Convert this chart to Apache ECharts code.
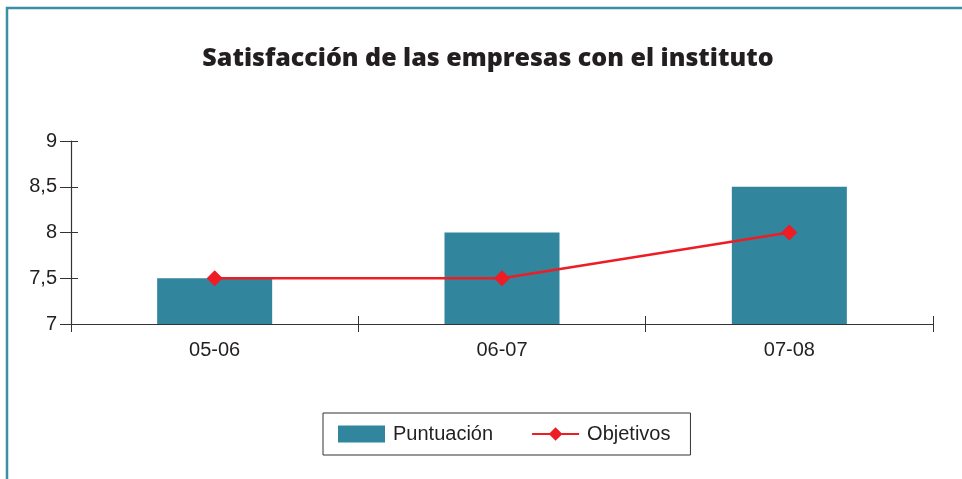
<!DOCTYPE html>
<html>
<head>
<meta charset="utf-8">
<script src="https://cdn.jsdelivr.net/npm/echarts@6/dist/echarts.min.js"></script>
<style>
  html, body { margin: 0; padding: 0; background: #fff; }
  #chart { width: 962px; height: 479px; }
</style>
</head>
<body>
<div id="chart"></div>
<script>
// datos del grafico
const cursos = ['05-06', '06-07', '07-08']
const puntuacion = [7.5, 8, 8.5]
const objetivos = [7.5, 7.5, 8]

const tealBar = '#31859c'
const rojo = '#ee1c25'
const texto = '#231f20'

const chart = echarts.init(document.getElementById('chart'))

const option = {
  animation: false,
  backgroundColor: '#fff',
  title: {
    text: 'Satisfacción de las empresas con el instituto',
    left: 483,
    textAlign: 'center',
    top: 41,
    textStyle: {
      fontFamily: 'Open Sans',
      fontWeight: 800,
      fontSize: 25,
      color: texto
    }
  },
  graphic: [
    {
      type: 'polyline',
      shape: { points: [[7, 479], [7, 8], [962, 8]] },
      style: { stroke: '#3a8ea5', lineWidth: 2.5, fill: null }
    }
  ],
  legend: {
    left: 323,
    top: 413,
    padding: [11, 20, 11, 15],
    borderColor: '#333',
    borderWidth: 1,
    itemWidth: 47,
    itemHeight: 17,
    itemGap: 38,
    textStyle: { fontFamily: 'Liberation Sans', fontSize: 20, color: texto, padding: [0, 0, 0, 3] },
    data: [
      { name: 'Puntuación', icon: 'rect' },
      { name: 'Objetivos' }
    ]
  },
  grid: { left: 71, right: 29, top: 141, bottom: 155 },
  xAxis: [
    {
      type: 'category',
      data: cursos,
      axisLine: { lineStyle: { color: '#333', width: 1.2 } },
      axisTick: { show: true, length: 8, lineStyle: { color: '#333' } },
      axisLabel: { fontFamily: 'Liberation Sans', fontSize: 20, color: texto, margin: 16 }
    },
    {
      type: 'category',
      data: cursos,
      position: 'bottom',
      axisLine: { show: false },
      axisTick: { show: true, inside: true, length: 8, lineStyle: { color: '#333' } },
      axisLabel: { show: false }
    }
  ],
  yAxis: [
    {
      type: 'value',
      min: 7,
      max: 9,
      interval: 0.5,
      splitLine: { show: false },
      axisLine: { show: true, lineStyle: { color: '#333', width: 1.2 } },
      axisTick: { show: true, length: 11, lineStyle: { color: '#333' } },
      axisLabel: {
        fontFamily: 'Liberation Sans',
        fontSize: 20,
        color: texto,
        margin: 14,
        formatter: v => String(v).replace('.', ',')
      }
    },
    {
      type: 'value',
      min: 7,
      max: 9,
      interval: 0.5,
      position: 'left',
      splitLine: { show: false },
      axisLine: { show: false },
      axisTick: { show: true, inside: true, length: 7, lineStyle: { color: '#333' } },
      axisLabel: { show: false }
    }
  ],
  series: [
    {
      name: 'Puntuación',
      type: 'bar',
      data: puntuacion,
      barWidth: 115,
      itemStyle: { color: tealBar }
    },
    {
      name: 'Objetivos',
      type: 'line',
      data: objetivos,
      symbol: 'diamond',
      symbolSize: 16,
      lineStyle: { color: rojo, width: 2.5 },
      itemStyle: { color: rojo },
      z: 5
    }
  ]
}

chart.setOption(option)
</script>
</body>
</html>
